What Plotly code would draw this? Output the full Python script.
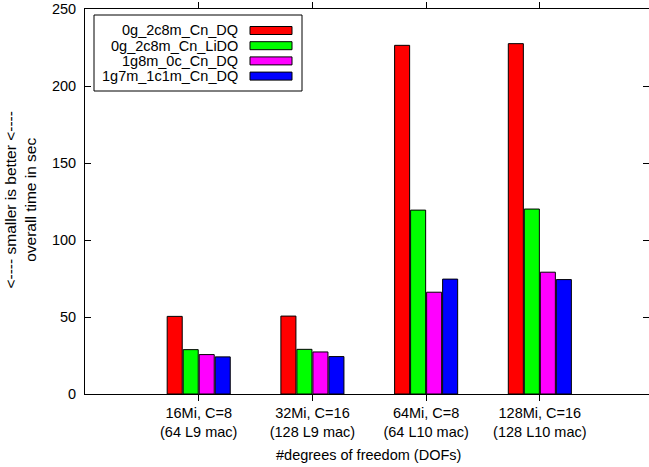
import plotly.graph_objects as go

# Benchmark configurations (x categories)
categories = [
    "16Mi, C=8<br>(64 L9 mac)",
    "32Mi, C=16<br>(128 L9 mac)",
    "64Mi, C=8<br>(64 L10 mac)",
    "128Mi, C=16<br>(128 L10 mac)",
]
cat_pos = [1, 2, 3, 4]

# Overall run time in seconds per solver variant
series_names = ["0g_2c8m_Cn_DQ", "0g_2c8m_Cn_LiDO", "1g8m_0c_Cn_DQ", "1g7m_1c1m_Cn_DQ"]
t_0g_2c8m_dq = [50.4, 50.6, 226.4, 227.5]
t_0g_2c8m_lido = [28.8, 29.0, 119.4, 120.1]
t_1g8m_0c_dq = [25.6, 27.3, 66.1, 79.1]
t_1g7m_1c1m_dq = [24.1, 24.3, 74.6, 74.3]
series_values = [t_0g_2c8m_dq, t_0g_2c8m_lido, t_1g8m_0c_dq, t_1g7m_1c1m_dq]
colors = ["#ff0000", "#00ff00", "#ff00ff", "#0000ff"]

FONT = "Liberation Sans, Arial, sans-serif"
FS = 14.5

W, H = 649, 467
ML, MR, MT, MB = 85, 0, 9, 73
PW = W - ML - MR
PH = H - MT - MB


def px_x(px):
    return (px - ML) / PW


def px_y(py):
    return 1 - (py - MT) / PH


fig = go.Figure()
for name, vals, col in zip(series_names, series_values, colors):
    fig.add_trace(go.Bar(
        x=cat_pos, y=vals, name=name,
        marker=dict(color=col, line=dict(color="black", width=1)),
        showlegend=False,
    ))
# empty trace so the right-hand tick axis gets drawn
fig.add_trace(go.Scatter(x=[], y=[], yaxis="y2", showlegend=False, hoverinfo="skip"))

# Key box in the upper-left corner: labels right-aligned, swatch to the right
shapes = [dict(type="rect", xref="paper", yref="paper",
               x0=px_x(94), x1=px_x(302), y0=px_y(91), y1=px_y(15),
               line=dict(color="black", width=1), fillcolor="white", layer="above")]
annotations = []
row0, row_step = 30.5, 15.2
for i, (name, col) in enumerate(zip(series_names, colors)):
    cy = row0 + i * row_step
    annotations.append(dict(xref="paper", yref="paper", x=px_x(240), y=px_y(cy),
                            xanchor="right", yanchor="middle", text=name,
                            showarrow=False, font=dict(family=FONT, size=FS, color="black")))
    shapes.append(dict(type="rect", xref="paper", yref="paper",
                       x0=px_x(250), x1=px_x(292), y0=px_y(cy + 4), y1=px_y(cy - 4),
                       line=dict(color="black", width=1), fillcolor=col, layer="above"))

# Two-line y-axis caption
annotations.append(dict(xref="paper", yref="paper", x=px_x(19.5), y=px_y(200),
                        xanchor="center", yanchor="middle", textangle=-90,
                        text="<---- smaller is better <----<br>overall time in sec",
                        showarrow=False, font=dict(family=FONT, size=15.5, color="black")))
# x-axis caption
annotations.append(dict(xref="paper", yref="paper", x=px_x(368), y=px_y(455),
                        xanchor="center", yanchor="middle",
                        text="#degrees of freedom (DOFs)",
                        showarrow=False, font=dict(family=FONT, size=FS, color="black")))

fig.update_layout(
    width=W, height=H,
    margin=dict(l=ML, r=MR, t=MT, b=MB, pad=0),
    paper_bgcolor="white", plot_bgcolor="white",
    barmode="group", bargap=0.437, bargroupgap=0.06,
    font=dict(family=FONT, size=FS, color="black"),
    shapes=shapes, annotations=annotations,
    xaxis=dict(range=[0, 4.96], tickvals=cat_pos, ticktext=categories,
               ticks="outside", ticklen=6, tickcolor="black",
               showline=True, linecolor="black", linewidth=1, mirror="ticks",
               showgrid=False, zeroline=False, tickangle=0),
    yaxis=dict(range=[0, 250], dtick=50, ticks="inside", ticklen=6, tickcolor="black",
               showline=True, linecolor="black", linewidth=1, mirror=False,
               showgrid=False, zeroline=False, ticklabelstandoff=5),
    # inward ticks repeated on the right edge, without a border line
    yaxis2=dict(overlaying="y", side="right", range=[0, 250], dtick=50,
                ticks="inside", ticklen=6, tickcolor="black", showticklabels=False,
                showline=False, showgrid=False, zeroline=False),
)

fig.write_html("out.html")
